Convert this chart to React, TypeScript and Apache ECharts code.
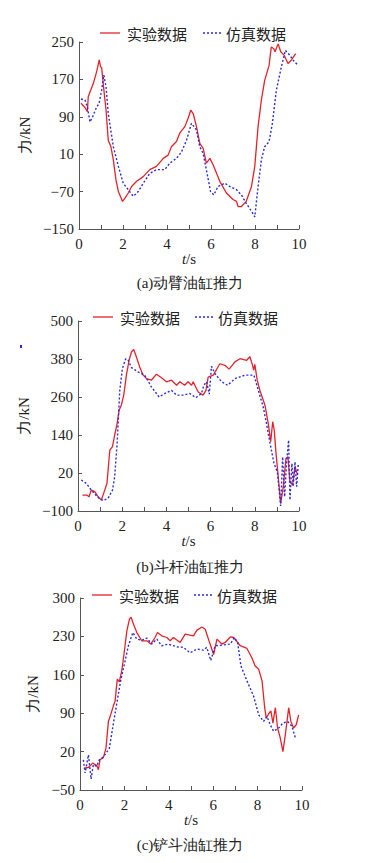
import React, { useEffect, useRef } from "react";
import * as echarts from "echarts";

// ---------- data ----------
const seriesNames = ["实验数据", "仿真数据"];
const captions = ["(a)动臂油缸推力", "(b)斗杆油缸推力", "(c)铲斗油缸推力"];
const xTicks = [0, 2, 4, 6, 8, 10];
const yTicksA = [-150, -70, 10, 90, 170, 250];
const yTicksB = [-100, 20, 140, 260, 380, 500];
const yTicksC = [-50, 20, 90, 160, 230, 300];

// (a) 动臂油缸推力 [t(s), F(kN)]
const armExp: number[][] = [
  [0.09, 119], [0.27, 110], [0.38, 101], [0.42, 133], [0.5, 143], [0.65, 161], [0.8, 186],
  [0.92, 212], [0.98, 197], [1.03, 195], [1.1, 161], [1.23, 104], [1.33, 40], [1.45, 26],
  [1.56, -2], [1.68, -45], [1.79, -70], [1.98, -91], [2.09, -84], [2.24, -73], [2.39, -59],
  [2.62, -48], [2.92, -38], [3.22, -23], [3.52, -16], [3.83, 1], [4.05, 8], [4.2, 26],
  [4.43, 37], [4.58, 55], [4.81, 69], [4.96, 87], [5.08, 104], [5.19, 97], [5.34, 69],
  [5.49, 33], [5.64, 23], [5.79, -9], [5.95, 1], [6.1, -13], [6.4, -48], [6.7, -73],
  [7.0, -87], [7.16, -91], [7.23, -102], [7.38, -102], [7.6, -91], [7.84, -59], [7.99, -16],
  [8.14, 69], [8.29, 126], [8.44, 168], [8.64, 200], [8.74, 239], [8.85, 236], [8.91, 229],
  [9.05, 246], [9.17, 229], [9.32, 222], [9.5, 204], [9.65, 211], [9.85, 225],
];
const armSim: number[][] = [
  [0.09, 128], [0.27, 126], [0.38, 111], [0.5, 79], [0.62, 90], [0.8, 111], [0.91, 118],
  [1.03, 147], [1.13, 179], [1.23, 154], [1.33, 97], [1.56, 26], [1.79, -16], [2.01, -52],
  [2.24, -66], [2.47, -80], [2.69, -70], [2.92, -52], [3.22, -31], [3.52, -23], [3.9, -23],
  [4.13, -9], [4.43, 1], [4.66, 15], [4.89, 40], [5.11, 76], [5.34, 62], [5.49, 26],
  [5.64, 12], [5.79, -23], [5.98, -70], [6.13, -77], [6.32, -59], [6.63, -52], [6.85, -59],
  [7.16, -66], [7.38, -77], [7.6, -95], [7.84, -112], [7.99, -124], [8.14, -59], [8.29, -2],
  [8.44, 26], [8.64, 37], [8.79, 76], [8.97, 147], [9.2, 197], [9.38, 232], [9.58, 222],
  [9.8, 207], [9.98, 200],
];

// (b) 斗杆油缸推力
const stickExp: number[][] = [
  [0.2, -50], [0.41, -50], [0.5, -55], [0.6, -34], [0.76, -39], [0.91, -55], [1.06, -65],
  [1.21, -34], [1.31, -13], [1.44, 92], [1.56, 103], [1.66, 140], [1.77, 176], [1.86, 218],
  [1.96, 234], [2.07, 266], [2.19, 329], [2.31, 376], [2.42, 402], [2.52, 410], [2.64, 387],
  [2.79, 355], [2.95, 329], [3.1, 318], [3.32, 313], [3.55, 332], [3.78, 321], [4.0, 308],
  [4.23, 313], [4.46, 297], [4.61, 308], [4.83, 297], [4.98, 308], [5.14, 297], [5.21, 308],
  [5.44, 276], [5.66, 266], [5.79, 281], [5.89, 323], [6.12, 329], [6.42, 365], [6.65, 360],
  [6.84, 348], [7.1, 371], [7.33, 381], [7.63, 376], [7.78, 387], [7.9, 360], [7.95, 345],
  [8.0, 363], [8.11, 313], [8.23, 281], [8.46, 234], [8.61, 176], [8.72, 119], [8.81, 182],
  [8.88, 155], [8.96, 82], [9.06, 8], [9.17, -76], [9.29, -23], [9.41, 66], [9.5, 71],
  [9.59, -8], [9.71, -18], [9.82, 40], [9.94, 13],
];
const stickSim: number[][] = [
  [0.15, -2], [0.38, -13], [0.6, -34], [0.76, -46], [0.95, -60], [1.13, -67], [1.36, -60],
  [1.56, -34], [1.66, 8], [1.77, 113], [1.89, 281], [2.01, 350], [2.16, 381], [2.27, 376],
  [2.42, 353], [2.72, 339], [3.02, 329], [3.32, 292], [3.67, 260], [3.93, 271], [4.23, 281],
  [4.46, 266], [4.76, 266], [5.06, 271], [5.33, 258], [5.59, 271], [5.69, 297], [5.82, 308],
  [5.94, 269], [6.04, 357], [6.19, 334], [6.5, 308], [6.77, 297], [7.1, 318], [7.55, 329],
  [7.96, 329], [8.16, 281], [8.38, 229], [8.53, 176], [8.72, 103], [8.87, 50], [9.02, 24],
  [9.17, -84], [9.26, 71], [9.35, -55], [9.44, 55], [9.53, 124], [9.59, -65], [9.68, 50],
  [9.74, -23], [9.82, 55], [9.89, -23], [9.97, 50],
];

// (c) 铲斗油缸推力
const bucketExp: number[][] = [
  [0.18, -10], [0.38, -9], [0.57, -1], [0.75, -5], [0.83, -13], [0.9, 5], [1.05, 9],
  [1.17, 26], [1.28, 75], [1.38, 87], [1.5, 103], [1.58, 112], [1.68, 152], [1.77, 147],
  [1.88, 167], [1.98, 197], [2.11, 240], [2.23, 262], [2.3, 265], [2.41, 252], [2.56, 237],
  [2.78, 222], [3.01, 222], [3.19, 216], [3.38, 228], [3.49, 237], [3.68, 231], [3.91, 228],
  [4.06, 222], [4.21, 228], [4.51, 219], [4.74, 234], [5.11, 231], [5.26, 241], [5.49, 247],
  [5.64, 243], [5.86, 216], [6.02, 197], [6.17, 225], [6.39, 216], [6.54, 219], [6.77, 229],
  [6.92, 228], [7.22, 213], [7.52, 208], [7.74, 191], [7.89, 176], [8.05, 170], [8.2, 149],
  [8.32, 100], [8.39, 81], [8.5, 89], [8.6, 94], [8.69, 72], [8.8, 100], [8.9, 63],
  [9.02, 45], [9.14, 20], [9.25, 51], [9.4, 100], [9.5, 75], [9.62, 63], [9.74, 69], [9.85, 87],
];
const bucketSim: number[][] = [
  [0.15, 5], [0.23, -19], [0.38, 14], [0.5, -30], [0.6, -4], [0.75, -7], [0.87, 5],
  [1.02, 9], [1.17, 17], [1.32, 26], [1.47, 63], [1.65, 106], [1.83, 149], [2.03, 185],
  [2.18, 213], [2.38, 237], [2.56, 225], [2.78, 223], [3.01, 227], [3.23, 216], [3.46, 225],
  [3.68, 213], [3.98, 216], [4.36, 211], [4.66, 210], [4.96, 200], [5.26, 207], [5.56, 205],
  [5.71, 210], [5.89, 186], [6.09, 213], [6.39, 214], [6.77, 216], [6.95, 228], [7.1, 219],
  [7.25, 176], [7.52, 149], [7.82, 121], [8.05, 87], [8.27, 75], [8.42, 84], [8.57, 69],
  [8.72, 57], [8.95, 63], [9.14, 72], [9.35, 75], [9.55, 66], [9.7, 45],
];

// ---------- styling ----------
const FONT = "Liberation Serif, Times New Roman, serif";
const CJK = "Noto Sans CJK SC";
const RED = "#e3232b";
const BLUE = "#2b2bd8";
const AXIS = "#555";
const TXT = "#222";

const panels = [
  { exp: armExp, sim: armSim, yTicks: yTicksA, grid: { left: 79, top: 42, width: 220, height: 187 }, legend: { x: 100, y: 33, x2: 203 }, caption: 283 },
  { exp: stickExp, sim: stickSim, yTicks: yTicksB, grid: { left: 78, top: 321, width: 221, height: 190 }, legend: { x: 93, y: 317, x2: 195 }, caption: 567 },
  { exp: bucketExp, sim: bucketSim, yTicks: yTicksC, grid: { left: 80, top: 598, width: 222, height: 192 }, legend: { x: 92, y: 595, x2: 194 }, caption: 845 },
];

export default function App() {
  const ref = useRef<HTMLDivElement>(null);
  useEffect(() => {
    if (!ref.current) return;
    const chart = echarts.init(ref.current, undefined, { renderer: "svg" });
    const grids: any[] = [];
    const xAxes: any[] = [];
    const yAxes: any[] = [];
    const series: any[] = [];
    const graphics: any[] = [];
    panels.forEach((p, i) => {
      grids.push({ ...p.grid, containLabel: false });
      xAxes.push({
        type: "value", gridIndex: i, min: 0, max: 10,
        name: "{i|t}{n|/s}", nameLocation: "middle", nameGap: 22,
        nameTextStyle: {
          fontFamily: FONT, fontSize: 15, color: TXT,
          rich: {
            i: { fontStyle: "italic", fontFamily: FONT, fontSize: 15, color: TXT },
            n: { fontFamily: FONT, fontSize: 15, color: TXT },
          },
        },
        axisLine: { show: true, onZero: false, lineStyle: { color: AXIS, width: 1 } },
        axisTick: { show: true, inside: true, length: 4, lineStyle: { color: AXIS }, customValues: [0, 1, 2, 3, 4, 5, 6, 7, 8, 9, 10] },
        axisLabel: { fontFamily: FONT, fontSize: 15, color: TXT, margin: 7, customValues: xTicks },
        splitLine: { show: false },
      });
      yAxes.push({
        type: "value", gridIndex: i, min: p.yTicks[0], max: p.yTicks[p.yTicks.length - 1],
        name: "力/kN", nameLocation: "middle", nameGap: 31, nameRotate: 90,
        nameTextStyle: { fontFamily: FONT, fontSize: 15, color: TXT },
        axisLine: { show: true, onZero: false, lineStyle: { color: AXIS, width: 1 } },
        axisTick: { show: true, inside: true, length: 4, lineStyle: { color: AXIS }, customValues: p.yTicks },
        axisLabel: { fontFamily: FONT, fontSize: 15, color: TXT, margin: 5, customValues: p.yTicks, formatter: (v: number) => (v < 0 ? "\u2212" + Math.abs(v) : String(v)) },
        splitLine: { show: false },
      });
      series.push({
        name: seriesNames[0], type: "line", xAxisIndex: i, yAxisIndex: i, data: p.exp,
        symbol: "none", lineStyle: { color: RED, width: 1.3 }, itemStyle: { color: RED },
      });
      series.push({
        name: seriesNames[1], type: "line", xAxisIndex: i, yAxisIndex: i, data: p.sim,
        symbol: "none", lineStyle: { color: BLUE, width: 1.4, type: [2, 2] }, itemStyle: { color: BLUE },
      });
      const L = p.legend;
      graphics.push({ type: "line", shape: { x1: L.x, y1: L.y, x2: L.x + 20, y2: L.y }, style: { stroke: RED, lineWidth: 1.3 } });
      graphics.push({ type: "text", x: L.x + 27, y: L.y, style: { text: seriesNames[0], fontFamily: CJK, fontSize: 15, fill: TXT, verticalAlign: "middle" } });
      graphics.push({ type: "line", shape: { x1: L.x2, y1: L.y, x2: L.x2 + 20, y2: L.y }, style: { stroke: BLUE, lineWidth: 1.4, lineDash: [2, 2] } });
      graphics.push({ type: "text", x: L.x2 + 23, y: L.y, style: { text: seriesNames[1], fontFamily: CJK, fontSize: 15, fill: TXT, verticalAlign: "middle" } });
      graphics.push({
        type: "text", x: 190, y: p.caption,
        style: { text: captions[i], fontFamily: FONT, fontSize: 15, fill: TXT, align: "center", verticalAlign: "middle" },
      });
    });
    graphics.push({ type: "rect", shape: { x: 20, y: 345, width: 2, height: 3 }, style: { fill: BLUE } });
    chart.setOption({
      animation: false,
      backgroundColor: "#fff",
      grid: grids, xAxis: xAxes, yAxis: yAxes, series, graphic: graphics,
    });
    return () => chart.dispose();
  }, []);
  return <div ref={ref} style={{ position: "absolute", left: 0, top: 0, width: 368, height: 863 }} />;
}
